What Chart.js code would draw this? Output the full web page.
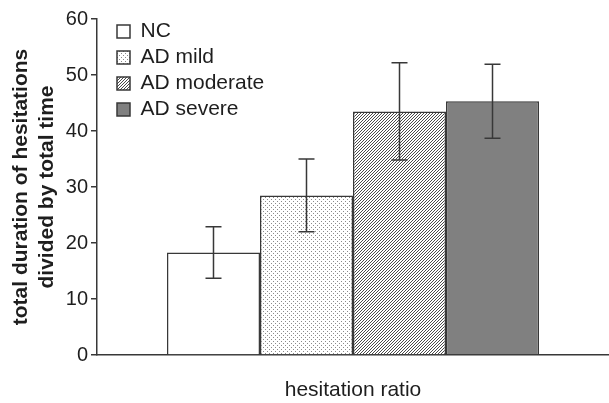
<!DOCTYPE html>
<html>
<head>
<meta charset="utf-8">
<script src="https://cdn.jsdelivr.net/npm/chart.js@4"></script>
<style>
  html, body { margin: 0; padding: 0; background: #fff; }
</style>
</head>
<body>
<canvas id="chart" width="609" height="403"></canvas>
<script>
// values (mean +- error)
const groups = ['NC', 'AD mild', 'AD moderate', 'AD severe'];
const means = [18.3, 28.5, 43.5, 45.3];
const errors = [4.6, 6.5, 8.7, 6.6];
const yTicks = [0, 10, 20, 30, 40, 50, 60];
const xTitle = 'hesitation ratio';
const yTitle = ['total duration of hesitations', 'divided by total time'];

const FONT = '"Liberation Sans", Arial, sans-serif';
const INK = '#1e1e1e';
const LINE = '#383838';

// small tiles for the bar fills
function tile(w, h, draw) {
    const c = document.createElement('canvas');
    c.width = w; c.height = h;
    const t = c.getContext('2d');
    t.fillStyle = '#fff';
    t.fillRect(0, 0, w, h);
    draw(t);
    return c;
}

const canvas = document.getElementById('chart');
const ctx = canvas.getContext('2d');

const dots = ctx.createPattern(tile(4, 4, t => {
    t.fillStyle = '#8a8a8a';
    t.fillRect(1, 1, 1, 1);
    t.fillRect(3, 3, 1, 1);
}), 'repeat');

const hatch = ctx.createPattern(tile(3, 3, t => {
    t.fillStyle = '#4a4a4a';
    t.fillRect(0, 2, 1, 1);
    t.fillRect(1, 1, 1, 1);
    t.fillRect(2, 0, 1, 1);
}), 'repeat');

const fills = ['#ffffff', dots, hatch, '#808080'];

// error bars on top of each bar
const errorBars = {
    id: 'errorBars',
    afterDatasetsDraw(chart) {
        const { ctx, scales: { y } } = chart;
        ctx.save();
        ctx.strokeStyle = LINE;
        ctx.lineWidth = 1.5;
        chart.data.datasets.forEach((ds, i) => {
            const bar = chart.getDatasetMeta(i).data[0];
            const top = y.getPixelForValue(means[i] + errors[i]);
            const bot = y.getPixelForValue(means[i] - errors[i]);
            ctx.beginPath();
            ctx.moveTo(bar.x, top); ctx.lineTo(bar.x, bot);
            ctx.moveTo(bar.x - 8, top); ctx.lineTo(bar.x + 8, top);
            ctx.moveTo(bar.x - 8, bot); ctx.lineTo(bar.x + 8, bot);
            ctx.stroke();
        });
        ctx.restore();
    }
};

// push the legend a bit into the plot, like the original
const legendNudge = {
    id: 'legendNudge',
    afterLayout(chart) {
        chart.legend.left = chart.chartArea.left + 15;
        chart.legend.top = chart.chartArea.top - 3;
    }
};

new Chart(ctx, {
    type: 'bar',
    data: {
        labels: [''],
        datasets: groups.map((g, i) => ({
            label: g,
            data: [means[i]],
            backgroundColor: fills[i],
            borderColor: LINE,
            borderWidth: 1.5,
            barPercentage: 1,
            categoryPercentage: 0.7266
        }))
    },
    options: {
        responsive: false,
        animation: false,
        layout: { padding: { top: 19, right: 0, bottom: 0, left: 0 } },
        plugins: {
            tooltip: { enabled: false },
            legend: {
                position: 'chartArea',
                align: 'start',
                labels: {
                    boxWidth: 13,
                    boxHeight: 13,
                    padding: 5,
                    color: INK,
                    font: { family: FONT, size: 21 }
                }
            }
        },
        scales: {
            x: {
                grid: { display: false },
                border: { display: true, color: LINE, width: 1.5 },
                ticks: { display: false },
                title: {
                    display: true,
                    text: xTitle,
                    color: INK,
                    font: { family: FONT, size: 21 },
                    padding: { top: 0, bottom: 0 }
                },
                afterFit: s => { s.height = 48; }
            },
            y: {
                min: yTicks[0],
                max: yTicks[yTicks.length - 1],
                afterBuildTicks: s => { s.ticks = yTicks.map(v => ({ value: v })); },
                grid: {
                    display: true,
                    drawOnChartArea: false,
                    drawTicks: true,
                    tickLength: 6,
                    color: LINE,
                    lineWidth: 1.5
                },
                border: { display: true, color: LINE, width: 1.5 },
                ticks: {
                    color: INK,
                    padding: 3,
                    font: { family: FONT, size: 20 }
                },
                title: {
                    display: true,
                    text: yTitle,
                    color: INK,
                    font: { family: FONT, size: 21, weight: 'bold' },
                    padding: { top: 9, bottom: 0 }
                },
                afterFit: s => { s.width = 97; }
            }
        }
    },
    plugins: [errorBars, legendNudge]
});
</script>
</body>
</html>
